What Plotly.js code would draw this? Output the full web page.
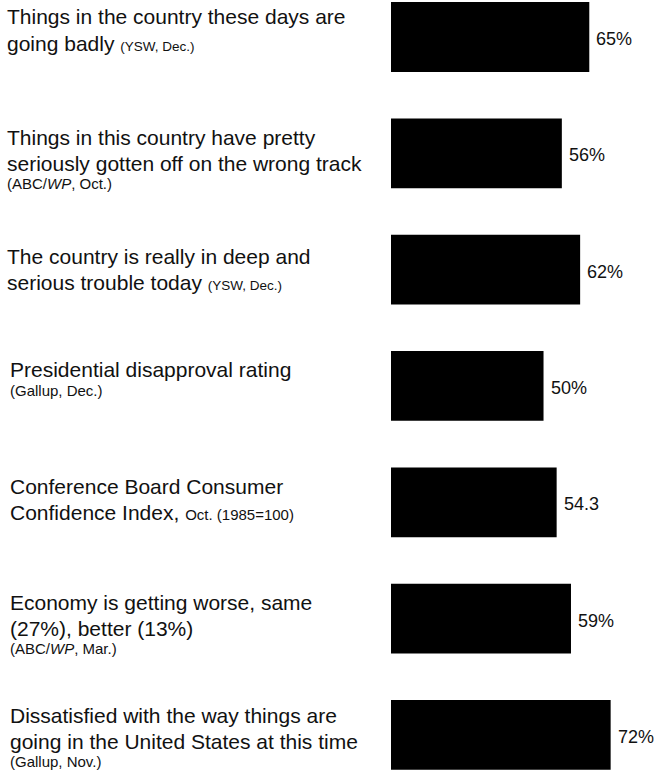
<!DOCTYPE html>
<html>
<head>
<meta charset="utf-8">
<script src="https://cdn.plot.ly/plotly-3.0.1.min.js"></script>
<style>html,body{margin:0;padding:0;background:#fff;}#chart{width:668px;height:771px;}</style>
</head>
<body>
<div id="chart"></div>
<script>
// ---- data ----
const values = [65, 56, 62, 50, 54.3, 59, 72];
const valueLabels = ["65%", "56%", "62%", "50%", "54.3", "59%", "72%"];
const labelLines = [
  ["Things in the country these days are", "going badly <SM>(YSW, Dec.)</SM>"],
  ["Things in this country have pretty", "seriously gotten off on the wrong track", "<SL>(ABC/<i>WP</i>, Oct.)</SL>"],
  ["The country is really in deep and", "serious trouble today <SM>(YSW, Dec.)</SM>"],
  ["Presidential disapproval rating", "<SL>(Gallup, Dec.)</SL>"],
  ["Conference Board Consumer", "Confidence Index, <SL>Oct. (1985=100)</SL>"],
  ["Economy is getting worse, same", "(27%), better (13%)", "<SL>(ABC/<i>WP</i>, Mar.)</SL>"],
  ["Dissatisfied with the way things are", "going in the United States at this time", "<SL>(Gallup, Nov.)</SL>"]
];

// ---- layout helpers (positions/styles) ----
const FONT = "Liberation Sans, Arial, Helvetica, sans-serif";
const lineOffsets = [
  [-20, 7],
  [-16, 10, 30],
  [-13, 13],
  [-16, 5],
  [-16, 10],
  [-16, 10, 30],
  [-19, 7, 27]
];
const labelX = [5, 5, 5, 8, 8, 8, 8];
const idx = values.map((v, i) => i);

function fmt(s) {
  return s.replace(/<SM>/g, '<span style="font-size:13.5px">').replace(/<\/SM>/g, '</span>')
          .replace(/<SL>/g, '<span style="font-size:15px">').replace(/<\/SL>/g, '</span>');
}

const annotations = [];
labelLines.forEach((lines, i) => {
  lines.forEach((ln, j) => {
    const small = /^<S[ML]>/.test(ln) && /<\/S[ML]>$/.test(ln);
    annotations.push({
      xref: 'paper', yref: 'y', x: labelX[i] / 668, y: i,
      xanchor: 'left', yanchor: 'middle',
      yshift: -lineOffsets[i][j],
      text: fmt(ln), showarrow: false,
      font: {family: FONT, size: small ? 15 : 21, color: '#111'}
    });
  });
});
values.forEach((v, i) => {
  annotations.push({
    xref: 'x', yref: 'y', x: v, y: i,
    xanchor: 'left', yanchor: 'middle', xshift: 5, yshift: -2,
    text: valueLabels[i], showarrow: false,
    font: {family: FONT, size: 18, color: '#111'}
  });
});

const trace = {
  type: 'bar', orientation: 'h',
  x: values, y: idx,
  width: 0.6,
  marker: {color: '#000', line: {width: 0}},
  hoverinfo: 'skip'
};

const layout = {
  width: 668, height: 771,
  margin: {l: 0, r: 0, t: 0, b: 0, pad: 0},
  paper_bgcolor: '#fff', plot_bgcolor: '#fff',
  showlegend: false,
  xaxis: {domain: [391 / 668, 1], range: [0, 90.8], visible: false, fixedrange: true},
  yaxis: {range: [6.31, -0.318], visible: false, fixedrange: true},
  annotations: annotations,
  font: {family: FONT}
};

Plotly.newPlot('chart', [trace], layout, {displayModeBar: false, staticPlot: true});
</script>
</body>
</html>
